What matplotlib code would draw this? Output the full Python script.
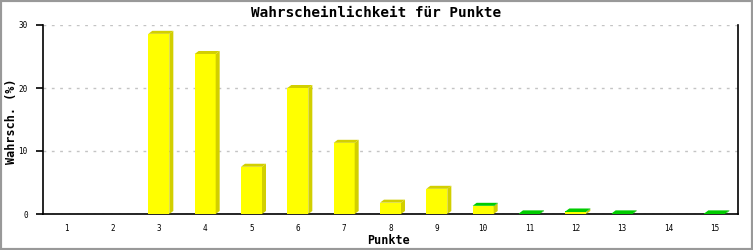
import matplotlib
matplotlib.use('Agg')
import matplotlib.pyplot as plt
from matplotlib.patches import Polygon, Rectangle

punkte = list(range(1, 16))
# yellow = main series, green = tiny second series stacked on top
gelb = [0, 0, 28.6, 25.4, 7.5, 20.0, 11.3, 1.8, 4.0, 1.2, 0, 0.3, 0, 0, 0]
gruen = [0, 0, 0, 0, 0, 0, 0, 0, 0, 0.1, 0.1, 0.1, 0.1, 0, 0.1]

fig = plt.figure(figsize=(7.53, 2.5), dpi=100)
ax = fig.add_axes([43/753, 36/250, 695/753, 189/250])
ax.set_xlim(0.5, 15.5)
ax.set_ylim(0, 30)

# size of the 3d offset, in pixels, turned into data units
ax_w = 695.0
ax_h = 189.0
dx = 4.0 / (ax_w / 15.0)
dy = 3.0 / (ax_h / 30.0)
w = 21.0 / (ax_w / 15.0)

yellow = '#ffff00'
dyellow = '#d2cf00'
green = '#00cc00'
dgreen = '#00a000'

for i, x in enumerate(punkte):
    y1 = gelb[i]
    y2 = gruen[i]
    tot = y1 + y2
    if tot <= 0:
        continue
    l = x - w/2
    r = x + w/2
    if y1 > 0:
        ax.add_patch(Rectangle((l, 0), w, y1, facecolor=yellow, edgecolor='none', zorder=3))
        ax.add_patch(Polygon([(r, 0), (r+dx, dy), (r+dx, y1+dy), (r, y1)],
                             facecolor=dyellow, edgecolor='none', zorder=3))
    if y2 > 0:
        ax.add_patch(Rectangle((l, y1), w, y2, facecolor=green, edgecolor='none', zorder=3))
        ax.add_patch(Polygon([(r, y1), (r+dx, y1+dy), (r+dx, tot+dy), (r, tot)],
                             facecolor=dgreen, edgecolor='none', zorder=3))
    topc = green if y2 > 0 else dyellow
    ax.add_patch(Polygon([(l, tot), (l+dx, tot+dy), (r+dx, tot+dy), (r, tot)],
                         facecolor=topc, edgecolor='none', zorder=3))

ax.set_yticks([0, 10, 20, 30])
ax.set_xticks(punkte)
ax.yaxis.grid(True, linestyle=(0, (2, 4)), color='#c4c4c4', linewidth=1)
ax.set_axisbelow(True)
ax.spines['top'].set_visible(False)
for s in ['left', 'bottom', 'right']:
    ax.spines[s].set_linewidth(1.2)
ax.tick_params(axis='y', length=5, width=1.2, pad=6, labelsize=5.5)
ax.tick_params(axis='x', length=0, pad=7, labelsize=5.5)
for lab in ax.get_xticklabels() + ax.get_yticklabels():
    lab.set_family('DejaVu Sans Mono')

fig.text(389/753, 1 - 240/250, 'Punkte', family='DejaVu Sans Mono', fontweight='bold',
         fontsize=8.5, ha='center', va='center')
fig.text(12/753, 1 - 121/250, 'Wahrsch. (%)', family='DejaVu Sans Mono', fontweight='bold',
         fontsize=8.5, ha='center', va='center', rotation=90)
fig.text(0.5, 1 - 13/250, 'Wahrscheinlichkeit für Punkte', family='DejaVu Sans Mono',
         fontweight='bold', fontsize=10.4, ha='center', va='center')

fig.add_artist(Rectangle((0, 0), 1, 1, transform=fig.transFigure, fill=False,
                         edgecolor='#999999', linewidth=3))

fig.savefig('out.png', dpi=100)
